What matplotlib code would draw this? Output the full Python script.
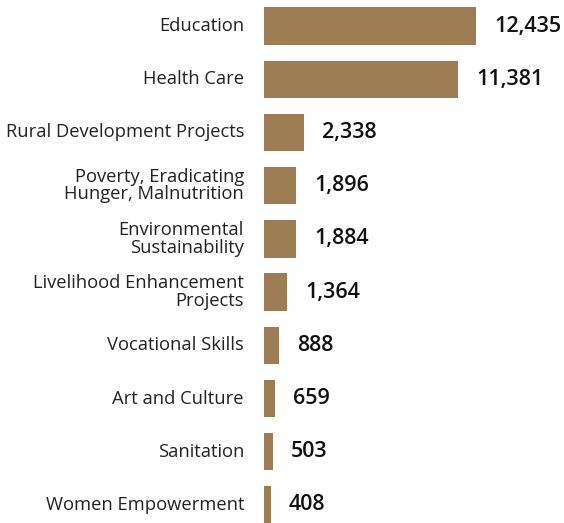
import matplotlib
matplotlib.use("Agg")
import matplotlib.pyplot as plt

categories = [
    "Education",
    "Health Care",
    "Rural Development Projects",
    "Poverty, Eradicating\nHunger, Malnutrition",
    "Environmental\nSustainability",
    "Livelihood Enhancement\nProjects",
    "Vocational Skills",
    "Art and Culture",
    "Sanitation",
    "Women Empowerment",
]
values = [12435, 11381, 2338, 1896, 1884, 1364, 888, 659, 503, 408]

BAR_COLOR = "#9E7D55"
plt.rcParams["font.family"] = ["Open Sans", "DejaVu Sans"]

fig = plt.figure(figsize=(5.64, 5.23), dpi=100)
# axes spans from the bar baseline (x=264px) to the right edge
ax = fig.add_axes([264 / 564, 0, 300 / 564, 1])

pos = list(range(len(values)))
ax.barh(pos, values, height=0.7, color=BAR_COLOR)
ax.set_xlim(0, 12435 * 300 / 212)
ax.set_ylim(9.34, -0.49)
ax.axis("off")

for p, v, c in zip(pos, values, categories):
    ax.annotate(f"{v:,}", (v, p), xytext=(18, 0), textcoords="offset pixels",
                ha="left", va="center", fontsize=15.5, fontweight="semibold",
                color="#111111")
    ax.annotate(c, (0, p), xytext=(-20, 0), textcoords="offset pixels",
                ha="right", va="center", fontsize=13.2, color="#222222",
                linespacing=0.95, annotation_clip=False)

fig.savefig("out.png", dpi=100)
